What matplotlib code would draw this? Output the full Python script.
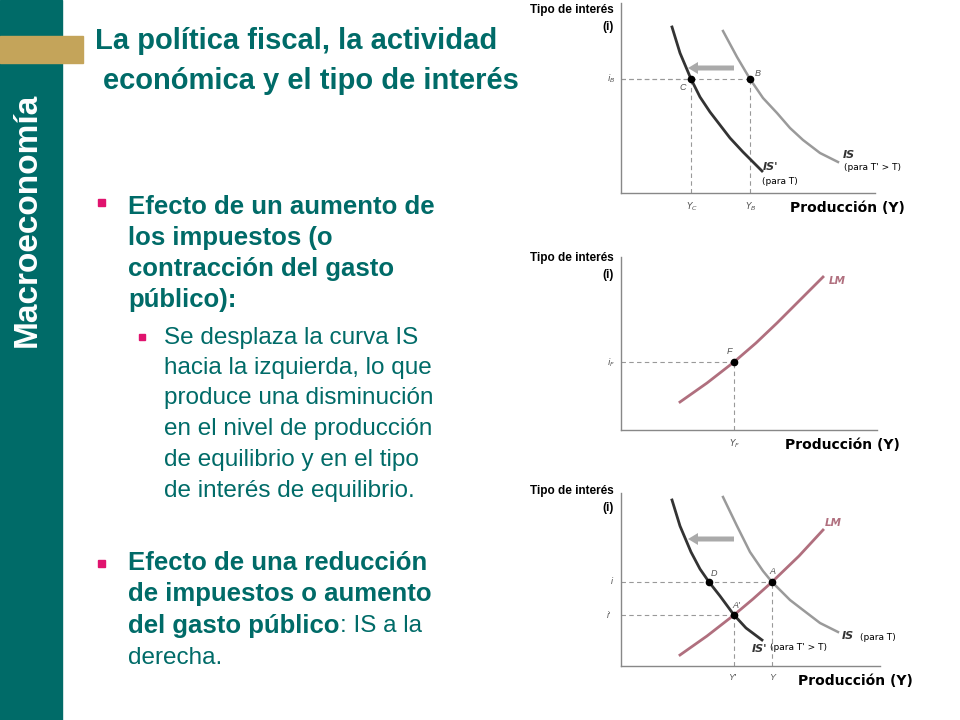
import matplotlib.pyplot as plt
from matplotlib.patches import Rectangle, FancyArrow

TEAL = '#006B68'
GOLD = '#C4A45A'
PINK = '#E0136E'
LMCOL = '#B06F7E'
DARK = '#333333'
LIGHT = '#9A9A9A'

# Chart 1: IS shifts left (offsets in px from origin)
c1_isp_x = [51, 59, 70, 79, 89, 99, 109, 122, 141]
c1_isp_y = [166, 140, 114, 96, 81, 68, 55, 41, 22]
c1_is_x = [102, 116, 129, 142, 156, 169, 182, 199, 217]
c1_is_y = [162, 136, 114, 95, 80, 65, 53, 40, 31]
c1_iB, c1_YC, c1_YB = 114, 70, 129

# Chart 2: LM
c2_lm_x = [59, 86, 113, 135, 156, 179, 202]
c2_lm_y = [28, 47, 68, 87, 107, 130, 153]
c2_iF, c2_YF = 68, 113

# Chart 3: IS-LM
c3_isp_x = [51, 59, 70, 79, 88, 99, 113, 125, 141]
c3_isp_y = [166, 140, 114, 97, 84, 70, 51, 38, 26]
c3_is_x = [102, 116, 129, 142, 151, 169, 182, 199, 217]
c3_is_y = [169, 140, 114, 95, 84, 66, 56, 43, 34]
c3_lm_x = [59, 86, 113, 132, 151, 178, 202]
c3_lm_y = [11, 30, 51, 67, 84, 110, 136]
c3_i, c3_ip, c3_Y, c3_Yp, c3_YD = 84, 51, 151, 113, 88

fig = plt.figure(figsize=(9.6, 7.2), dpi=100)
bg = fig.add_axes([0, 0, 1, 1])
bg.set_xlim(0, 960); bg.set_ylim(720, 0); bg.axis('off')

# slide chrome
bg.add_patch(Rectangle((0, 0), 62, 720, color=TEAL))
bg.add_patch(Rectangle((0, 36), 83, 27, color=GOLD))
bg.text(27, 220, 'Macroeconomía', rotation=90, color='white', fontsize=24, weight='bold',
        ha='center', va='center', family='Liberation Sans')
bg.text(8, 702, '[ 20 ]', color=TEAL, fontsize=16, weight='bold', va='center', family='Liberation Sans')

title_font = dict(color=TEAL, fontsize=21, weight='bold', family='Liberation Sans', va='center')
bg.text(95, 41, 'La política fiscal, la actividad', **title_font)
bg.text(103, 81, 'económica y el tipo de interés', **title_font)

b_font = dict(color=TEAL, fontsize=18.5, weight='bold', family='Liberation Sans', va='center')
s_font = dict(color=TEAL, fontsize=17.5, family='Liberation Sans', va='center')
for y, t in zip([207, 238, 269, 300], ['Efecto de un aumento de', 'los impuestos (o',
                                     'contracción del gasto', 'público):']):
    bg.text(128, y, t, **b_font)
bg.add_patch(Rectangle((98, 199), 7, 7, color=PINK))
for y, t in zip([338, 368, 398, 429, 460, 491],
                ['Se desplaza la curva IS', 'hacia la izquierda, lo que', 'produce una disminución',
                 'en el nivel de producción', 'de equilibrio y en el tipo', 'de interés de equilibrio.']):
    bg.text(164, y, t, **s_font)
bg.add_patch(Rectangle((139, 334), 6, 6, color=PINK))
bg.add_patch(Rectangle((98, 560), 7, 7, color=PINK))
for y, t in zip([563, 594, 626], ['Efecto de una reducción', 'de impuestos o aumento', 'del gasto público']):
    bg.text(128, y, t, **b_font)
bg.text(128, 658, 'derecha.', **s_font)
t = bg.text(128, 626, 'del gasto público', alpha=0, **b_font)
fig.canvas.draw()
ext = t.get_window_extent()
bg.text(128 + ext.width, 626, ': IS a la', **s_font)


def chart(ox, oy, w, h):
    ax = fig.add_axes([ox / 960, (720 - oy) / 720, w / 960, h / 720])
    ax.set_xlim(0, w); ax.set_ylim(0, h)
    for s in ['top', 'right']:
        ax.spines[s].set_visible(False)
    for s in ['left', 'bottom']:
        ax.spines[s].set_color('#888888'); ax.spines[s].set_linewidth(1)
    ax.set_xticks([]); ax.set_yticks([])
    ax.patch.set_alpha(0)
    return ax


def guides(ax, x, y):
    ax.plot([0, x], [y, y], color='#999999', lw=0.8, dashes=(4, 3))
    ax.plot([x, x], [0, y], color='#999999', lw=0.8, dashes=(4, 3))


def labels(oy, ytop, xend):
    bg.text(614, ytop, 'Tipo de interés', ha='right', va='center', fontsize=8.5, weight='bold',
            family='Liberation Sans')
    bg.text(614, ytop + 17, '(i)', ha='right', va='center', fontsize=8.5, weight='bold',
            family='Liberation Sans')
    bg.text(xend, oy + 15, 'Producción (Y)', ha='right', va='center', fontsize=10, weight='bold',
            family='DejaVu Sans')


sm = dict(fontsize=6.5, style='italic', color='#555555', family='Liberation Sans', va='center')
arrow = dict(width=5, head_width=12, head_length=10, color='#AAAAAA', lw=0)

# chart 1
ax1 = chart(621, 193, 254, 190)
guides(ax1, c1_YB, c1_iB); guides(ax1, c1_YC, c1_iB)
ax1.plot(c1_is_x, c1_is_y, color=LIGHT, lw=1.8)
ax1.plot(c1_isp_x, c1_isp_y, color=DARK, lw=2)
ax1.plot([c1_YC, c1_YB], [c1_iB, c1_iB], 'o', color='black', ms=4.5, ls='none')
ax1.add_patch(FancyArrow(113, 125, -36, 0, **arrow))
labels(193, 10, 905)
bg.text(607, 79, r'$i_B$', **sm)
bg.text(686, 207, r'$Y_C$', **sm); bg.text(745, 207, r'$Y_B$', **sm)
bg.text(679, 87, 'C', **sm); bg.text(755, 74, 'B', **sm)
bg.text(763, 167, "IS'", fontsize=8, weight='bold', style='italic', color=DARK, va='center')
bg.text(762, 181, '(para T)', fontsize=6.5, va='center')
bg.text(843, 155, 'IS', fontsize=8, weight='bold', style='italic', color=DARK, va='center')
bg.text(844, 167, "(para T' > T)", fontsize=6.5, va='center')

# chart 2
ax2 = chart(621, 430, 256, 173)
guides(ax2, c2_YF, c2_iF)
ax2.plot(c2_lm_x, c2_lm_y, color=LMCOL, lw=2)
ax2.plot([c2_YF], [c2_iF], 'o', color='black', ms=4.5)
labels(430, 258, 900)
bg.text(607, 363, r'$i_F$', **sm)
bg.text(729, 444, r'$Y_F$', **sm)
bg.text(727, 352, 'F', **sm)
bg.text(829, 281, 'LM', fontsize=7.5, weight='bold', style='italic', color=LMCOL, va='center')

# chart 3
ax3 = chart(621, 666, 259, 173)
guides(ax3, c3_Y, c3_i); guides(ax3, c3_Yp, c3_ip)
ax3.plot(c3_is_x, c3_is_y, color=LIGHT, lw=1.8)
ax3.plot(c3_lm_x, c3_lm_y, color=LMCOL, lw=2)
ax3.plot(c3_isp_x, c3_isp_y, color=DARK, lw=2)
ax3.plot([c3_Yp, c3_Y, c3_YD], [c3_ip, c3_i, c3_i], 'o', color='black', ms=4.5, ls='none')
ax3.add_patch(FancyArrow(113, 127, -36, 0, **arrow))
labels(666, 491, 913)
bg.text(611, 582, 'i', **sm); bg.text(607, 615, "i'", **sm)
bg.text(728, 678, "Y'", **sm); bg.text(769, 678, 'Y', **sm)
bg.text(711, 574, 'D', **sm); bg.text(769, 572, 'A', **sm); bg.text(732, 605, "A'", **sm)
bg.text(752, 649, "IS'", fontsize=8, weight='bold', style='italic', color=DARK, va='center')
bg.text(770, 647, "(para T' > T)", fontsize=6.5, va='center')
bg.text(842, 636, 'IS', fontsize=8, weight='bold', style='italic', color=DARK, va='center')
bg.text(860, 638, '(para T)', fontsize=6.5, va='center')
bg.text(825, 523, 'LM', fontsize=7.5, weight='bold', style='italic', color=LMCOL, va='center')

fig.savefig('out.png', dpi=100)
